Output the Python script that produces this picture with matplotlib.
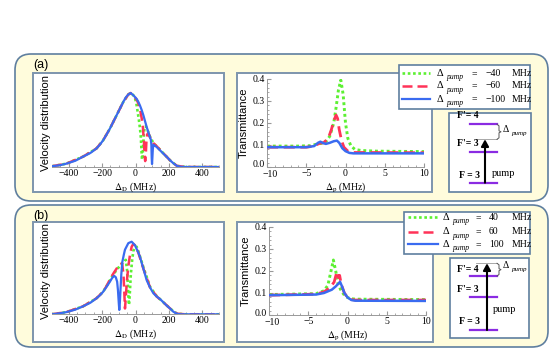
import matplotlib
matplotlib.use('Agg')
import matplotlib.pyplot as plt
import matplotlib.transforms as mtrans
from matplotlib.patches import FancyBboxPatch, Rectangle, FancyArrowPatch
from matplotlib.lines import Line2D

plt.rcParams['mathtext.fontset'] = 'stix'

# ---------------- data ----------------
# Velocity distribution, panel (a)
va_blue_x = [-500, -450, -414, -360, -314, -270, -234, -214, -194, -173, -153, -133, -113, -93, -73, -58, -43, -29,
             -13, 7, 17, 27, 37, 47, 57, 67, 77, 87, 92, 95, 97, 99, 101, 104, 108, 115, 127, 147, 167, 188, 207, 227,
             248, 270, 300, 400, 500]
va_blue_y = [0.01, 0.025, 0.045, 0.085, 0.14, 0.19, 0.25, 0.30, 0.36, 0.44, 0.52, 0.61, 0.70, 0.79, 0.88, 0.94, 0.98,
             1.0, 0.97, 0.92, 0.88, 0.83, 0.77, 0.70, 0.62, 0.54, 0.47, 0.40, 0.37, 0.30, 0.12, 0.04, 0.12, 0.25, 0.30,
             0.29, 0.27, 0.225, 0.18, 0.135, 0.09, 0.05, 0.015, 0.003, 0.0, 0.0, 0.0]
va_green_x = [-500, -414, -314, -234, -194, -153, -113, -73, -43, -29, -13, -3, 5, 12, 20, 27, 32, 36, 39, 42, 46, 50,
              55, 62, 72, 87, 108, 127, 167, 207, 248, 300, 500]
va_green_y = [0.01, 0.045, 0.14, 0.25, 0.36, 0.52, 0.70, 0.88, 0.98, 1.0, 0.97, 0.93, 0.86, 0.76, 0.64, 0.52, 0.40, 0.22,
              0.10, 0.12, 0.28, 0.45, 0.55, 0.55, 0.50, 0.41, 0.32, 0.28, 0.185, 0.09, 0.015, 0.0, 0.0]
va_red_x = [-500, -414, -314, -234, -194, -153, -113, -73, -43, -29, -13, 7, 17, 27, 37, 45, 51, 55, 58, 61, 65, 70, 77,
            87, 108, 127, 167, 207, 248, 300, 500]
va_red_y = [0.01, 0.045, 0.14, 0.25, 0.36, 0.52, 0.70, 0.88, 0.98, 1.0, 0.97, 0.91, 0.86, 0.78, 0.66, 0.52, 0.32, 0.14,
            0.08, 0.14, 0.33, 0.44, 0.46, 0.40, 0.32, 0.28, 0.185, 0.09, 0.015, 0.0, 0.0]

# Velocity distribution, panel (b)
vb_blue_x = [-500, -450, -414, -360, -314, -270, -234, -214, -194, -173, -153, -140, -128, -118, -110, -105, -100, -97,
             -94, -90, -85, -79, -70, -63, -43, -23, -3, 7, 17, 27, 47, 67, 87, 107, 127, 147, 167, 187, 207, 227, 248,
             270, 300, 400, 500]
vb_blue_y = [0.0, 0.015, 0.03, 0.065, 0.11, 0.16, 0.22, 0.26, 0.31, 0.38, 0.45, 0.50, 0.53, 0.51, 0.45, 0.33, 0.15,
             0.06, 0.15, 0.33, 0.55, 0.72, 0.82, 0.89, 0.98, 1.0, 0.95, 0.90, 0.85, 0.79, 0.63, 0.47, 0.37, 0.29, 0.245,
             0.21, 0.165, 0.12, 0.08, 0.035, 0.008, 0.0, 0.0, 0.0, 0.0]
vb_red_x = [-500, -414, -314, -234, -194, -173, -153, -133, -113, -93, -80, -72, -67, -63, -59, -52, -43, -33, -23, -13,
            -3, 17, 47, 87, 127, 167, 207, 248, 300, 500]
vb_red_y = [0.0, 0.03, 0.11, 0.22, 0.31, 0.39, 0.48, 0.56, 0.63, 0.69, 0.70, 0.55, 0.30, 0.08, 0.20, 0.45, 0.66, 0.82,
            0.93, 0.97, 0.95, 0.85, 0.63, 0.37, 0.245, 0.165, 0.08, 0.008, 0.0, 0.0]
vb_green_x = [-500, -414, -314, -234, -194, -173, -153, -133, -113, -93, -73, -58, -50, -44, -39, -35, -28, -20, -13, -3,
              7, 17, 47, 87, 127, 167, 207, 248, 300, 500]
vb_green_y = [0.0, 0.03, 0.11, 0.22, 0.31, 0.39, 0.47, 0.55, 0.61, 0.67, 0.72, 0.75, 0.60, 0.30, 0.13, 0.25, 0.55, 0.75,
              0.87, 0.93, 0.93, 0.87, 0.65, 0.38, 0.25, 0.165, 0.08, 0.008, 0.0, 0.0]

# Transmittance, panel (a)
ta_green_x = [-10, -6, -4.5, -3.5, -3, -2.5, -2, -1.5, -1.2, -0.9, -0.6, -0.3, 0, 0.3, 0.7, 1.2, 2, 4, 10]
ta_green_y = [0.095, 0.095, 0.097, 0.105, 0.108, 0.115, 0.14, 0.2, 0.27, 0.35, 0.395, 0.33, 0.2, 0.13, 0.095, 0.08,
              0.075, 0.072, 0.07]
ta_red_x = [-10, -5, -4, -3.3, -2.8, -2.2, -1.8, -1.5, -1.2, -1.0, -0.8, -0.5, -0.2, 0.3, 1, 10]
ta_red_y = [0.09, 0.09, 0.095, 0.108, 0.11, 0.13, 0.17, 0.21, 0.236, 0.22, 0.17, 0.12, 0.09, 0.072, 0.066, 0.065]
ta_blue_x = [-10, -5, -4, -3.5, -3.2, -2.8, -2.5, -2, -1.5, -1.1, -0.8, -0.4, 0, 0.5, 1, 10]
ta_blue_y = [0.09, 0.09, 0.095, 0.11, 0.115, 0.108, 0.105, 0.11, 0.117, 0.12, 0.11, 0.085, 0.072, 0.064, 0.062, 0.062]

# Transmittance, panel (b)
tb_green_x = [-10, -4, -3, -2.5, -2.1, -1.8, -1.5, -1.2, -0.8, -0.3, 0.3, 1, 10]
tb_green_y = [0.093, 0.097, 0.11, 0.135, 0.2, 0.25, 0.2, 0.14, 0.11, 0.085, 0.075, 0.072, 0.07]
tb_red_x = [-10, -4, -3, -2.2, -1.7, -1.4, -1.3, -1.15, -1.0, -0.8, -0.4, 0, 0.5, 1, 10]
tb_red_y = [0.09, 0.095, 0.105, 0.125, 0.15, 0.19, 0.197, 0.17, 0.18, 0.14, 0.1, 0.08, 0.07, 0.068, 0.068]
tb_blue_x = [-10, -4, -3, -2, -1.5, -1.1, -0.95, -0.7, -0.4, 0, 0.5, 1, 10]
tb_blue_y = [0.09, 0.093, 0.1, 0.115, 0.13, 0.145, 0.151, 0.13, 0.1, 0.08, 0.068, 0.065, 0.064]

vel_ticks = [-400, -200, 0, 200, 400]
tr_xticks = [-10, -5, 0, 5, 10]
tr_yticks = [0.0, 0.1, 0.2, 0.3, 0.4]
legend_a = ['\u221240', '\u221260', '\u2212100']
legend_b = ['40', '60', '100']

# ---------------- style ----------------
W, H = 553, 349
SERIF = 'Liberation Serif'
SANS = 'Liberation Sans'
C_GREEN = '#5CF032'
C_RED = '#FF3358'
C_BLUE = '#3A6BF0'
C_PANEL = '#FFFCDC'
C_EDGE = '#5F7F9F'
C_FRAME = '#7D95AD'
C_LEVEL = '#8A2BE2'
C_AX = '#999999'
TICK_FS = 7

fig = plt.figure(figsize=(W / 100, H / 100), dpi=100)
bg = fig.add_axes([0, 0, 1, 1], zorder=0)
bg.set_xlim(0, W)
bg.set_ylim(H, 0)
bg.axis('off')


def rect(x0, y0, x1, y1):
    return [x0 / W, 1 - y1 / H, (x1 - x0) / W, (y1 - y0) / H]


def line_style(ax, xs, ys, kind, lw=1.6):
    if kind == 'green':
        ax.plot(xs, ys, color=C_GREEN, lw=lw + 0.3, linestyle=(0, (1, 1)), zorder=2)
    elif kind == 'red':
        ax.plot(xs, ys, color=C_RED, lw=lw + 0.2, linestyle=(0, (4, 2)), zorder=3)
    else:
        ax.plot(xs, ys, color=C_BLUE, lw=lw, zorder=4)


def panel(y0, y1, label):
    bg.add_patch(FancyBboxPatch((15, y0), 533, y1 - y0, boxstyle='round,pad=0,rounding_size=16',
                                fc=C_PANEL, ec=C_EDGE, lw=1.2, zorder=0))
    bg.text(33, y0 + 11, label, fontsize=9, family=SANS, ha='left', va='center', zorder=1)


def frame(x0, y0, x1, y1):
    bg.add_patch(Rectangle((x0, y0), x1 - x0, y1 - y0, fc='white', ec=C_FRAME, lw=1.4, zorder=1))


def vel_axes(pos, series):
    ax = fig.add_axes(pos, zorder=2)
    ax.patch.set_alpha(0)
    for (xs, ys, k) in series:
        line_style(ax, xs, ys, k)
    ax.set_xlim(-500, 500)
    ax.set_ylim(0, 1.2)
    for s in ['top', 'right', 'left']:
        ax.spines[s].set_visible(False)
    ax.spines['bottom'].set_color(C_AX)
    ax.spines['bottom'].set_linewidth(0.7)
    ax.set_yticks([])
    ax.set_xticks(vel_ticks)
    ax.set_xticklabels([('\u2212%d' % -t) if t < 0 else str(t) for t in vel_ticks], family=SERIF, fontsize=TICK_FS)
    ax.set_xticks(range(-500, 501, 50), minor=True)
    ax.tick_params(axis='x', which='major', direction='in', length=3, color=C_AX, pad=1.5)
    ax.tick_params(axis='x', which='minor', direction='in', length=1.5, color=C_AX)
    ax.set_xlabel(r'$\Delta_{\mathrm{D}}$ (MHz)', family=SERIF, fontsize=7, labelpad=1.5)
    ax.set_ylabel('Velocity distribution', family=SANS, fontsize=8, labelpad=1)
    return ax


def tr_axes(pos, series):
    ax = fig.add_axes(pos, zorder=2)
    ax.patch.set_alpha(0)
    for (xs, ys, k) in series:
        line_style(ax, xs, ys, k, lw=1.8)
    ax.set_xlim(-10, 10)
    ax.set_ylim(0, 0.4)
    for s in ['top', 'right']:
        ax.spines[s].set_visible(False)
    for s in ['bottom', 'left']:
        ax.spines[s].set_color(C_AX)
        ax.spines[s].set_linewidth(0.7)
    ax.set_xticks(tr_xticks)
    ax.set_xticklabels([('\u2212%d' % -t) if t < 0 else str(t) for t in tr_xticks], family=SERIF, fontsize=TICK_FS)
    ax.set_yticks(tr_yticks)
    ax.set_yticklabels(['%.1f' % t for t in tr_yticks], family=SERIF, fontsize=TICK_FS)
    ax.set_xticks([x * 1.0 for x in range(-10, 11)], minor=True)
    ax.set_yticks([y / 50 for y in range(0, 21)], minor=True)
    ax.tick_params(which='major', direction='in', length=3, color=C_AX, pad=1.5)
    ax.tick_params(which='minor', direction='in', length=1.5, color=C_AX)
    # keep "0.0" and "-10" apart, as in the reference they sit corner to corner
    off_up = mtrans.ScaledTranslation(0, 3 / 100, fig.dpi_scale_trans)
    lab0 = ax.get_yticklabels()[0]
    lab0.set_transform(lab0.get_transform() + off_up)
    off_dn = mtrans.ScaledTranslation(3 / 100, -1 / 100, fig.dpi_scale_trans)
    labx = ax.get_xticklabels()[0]
    labx.set_transform(labx.get_transform() + off_dn)
    ax.set_xlabel(r'$\Delta_{\mathrm{p}}$ (MHz)', family=SERIF, fontsize=7, labelpad=1)
    ax.set_ylabel('Transmittance', family=SANS, fontsize=8, labelpad=3)
    return ax


def legend(x0, y0, x1, y1, rows_y, xs0, xs1, xd, xeq, xval, xmhz, vals):
    bg.add_patch(Rectangle((x0, y0), x1 - x0, y1 - y0, fc='white', ec=C_EDGE, lw=1.2, zorder=3))
    kinds = [(C_GREEN, (0, (1, 1)), 1.9), (C_RED, (0, (4, 2)), 1.8), (C_BLUE, '-', 1.6)]
    for ry, (c, ls, lw), v in zip(rows_y, kinds, vals):
        bg.add_line(Line2D([xs0, xs1], [ry, ry], color=c, linestyle=ls, lw=lw, zorder=4))
        bg.text(xd, ry, '\u0394', family=SERIF, fontsize=7.5, ha='left', va='center', zorder=4)
        bg.text(xd + 9, ry + 4, 'pump', family=SERIF, style='italic', fontsize=5.5, ha='left', va='center', zorder=4)
        bg.text(xeq, ry, '=', family=SERIF, fontsize=7, ha='center', va='center', zorder=4)
        bg.text(xval, ry, v, family=SERIF, fontsize=7, ha='left', va='center', zorder=4)
        bg.text(xmhz, ry, 'MHz', family=SERIF, fontsize=7, ha='left', va='center', zorder=4)


def levels(box, y4, y3, y0, arrow_top, xa, txt_y, pump_xy, bracket, dlab):
    x0, y0b, x1, y1b = box
    bg.add_patch(Rectangle((x0, y0b), x1 - x0, y1b - y0b, fc='white', ec=C_EDGE, lw=1.2, zorder=3))
    for yy in (y4, y3, y0):
        bg.add_line(Line2D([470, 497], [yy, yy], color=C_LEVEL, lw=1.6, zorder=4))
    bg.add_line(Line2D([476, 497], [arrow_top, arrow_top], color='#9a9a9a', lw=0.6, zorder=4))
    bg.add_patch(FancyArrowPatch((xa, y0), (xa, arrow_top), arrowstyle='-|>,head_length=4,head_width=2.2',
                                 color='black', lw=1.5, zorder=5, shrinkA=0, shrinkB=0))
    by0, by1 = bracket
    bm = (by0 + by1) / 2
    bg.add_line(Line2D([497, 499, 499, 501, 499, 499, 497], [by0, by0 + 1.5, bm - 1, bm, bm + 1, by1 - 1.5, by1],
                       color='#555555', lw=0.7, zorder=4))
    bg.text(503, dlab, '\u0394', family=SERIF, fontsize=7, ha='left', va='center', zorder=4)
    bg.text(511, dlab + 4, 'pump', family=SERIF, style='italic', fontsize=5, ha='left', va='center', zorder=4)
    t4, t3, t0 = txt_y
    bg.text(457, t4, "F'= 4", family=SERIF, weight='bold', fontsize=7, ha='left', va='center', zorder=4)
    bg.text(457, t3, "F'= 3", family=SERIF, weight='bold', fontsize=7, ha='left', va='center', zorder=4)
    bg.text(459, t0, "F = 3", family=SERIF, weight='bold', fontsize=7, ha='left', va='center', zorder=4)
    bg.text(pump_xy[0], pump_xy[1], 'pump', family=SERIF, fontsize=7.5, ha='left', va='center', zorder=4)


# ---------------- panel (a) ----------------
panel(54, 201, '(a)')
frame(33, 73, 224, 192)
frame(237, 73, 432, 192)
vel_axes(rect(52, 167 - 74 * 1.2, 219, 167),
         [(va_green_x, va_green_y, 'green'), (va_red_x, va_red_y, 'red'), (va_blue_x, va_blue_y, 'blue')])
tr_axes(rect(267, 79, 424, 167),
        [(ta_green_x, ta_green_y, 'green'), (ta_red_x, ta_red_y, 'red'), (ta_blue_x, ta_blue_y, 'blue')])
legend(399, 65, 530, 109, [73.3, 86, 99], 402, 430, 437, 474, 486, 512, legend_a)
levels((449, 113, 531, 192), 124.3, 151.7, 182.7, 139.3, 485, (116, 144, 175), (492, 173), (124.3, 139.3), 129.3)

# ---------------- panel (b) ----------------
panel(205, 347, '(b)')
frame(33, 222, 224, 342)
frame(237, 222, 433, 342)
vel_axes(rect(52, 314.3 - 72.6 * 1.2, 219, 314.3),
         [(vb_green_x, vb_green_y, 'green'), (vb_red_x, vb_red_y, 'red'), (vb_blue_x, vb_blue_y, 'blue')])
tr_axes(rect(269, 227, 426, 315),
        [(tb_green_x, tb_green_y, 'green'), (tb_red_x, tb_red_y, 'red'), (tb_blue_x, tb_blue_y, 'blue')])
legend(404, 212, 530, 254, [217.3, 231.7, 244.3], 408, 438, 443, 478, 489, 512, legend_b)
levels((450, 258, 529, 338), 276, 296.7, 330, 263.3, 487, (270, 290, 322), (493, 310), (263.3, 276), 265)

fig.savefig('out.png', dpi=100)
